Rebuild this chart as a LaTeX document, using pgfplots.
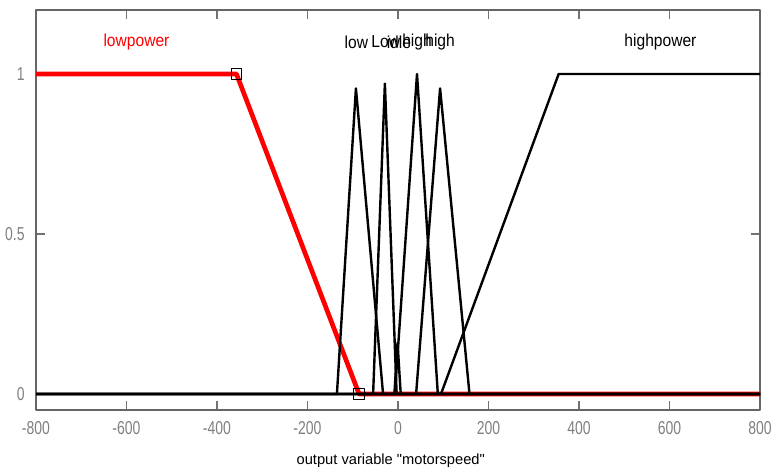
\documentclass[border=0pt]{standalone}
\usepackage{pgfplots}
\pgfplotsset{compat=1.18}
\usepackage{fontspec}
\setmainfont{Liberation Sans}
\newfontfamily\tickfont[FakeStretch=0.75]{Liberation Sans}
\newfontfamily\labfont[FakeStretch=0.9]{Liberation Sans}
% straight double quote, set as a glyph so the TeX ligature mapping leaves it alone
\newcommand\sq{\XeTeXglyph\XeTeXcharglyph"22\relax}

\begin{document}
\begin{tikzpicture}
\begin{axis}[
  scale only axis, width=543pt, height=300pt,
  xmin=-800, xmax=800, ymin=-0.05, ymax=1.2,
  xtick={-800,-600,-400,-200,0,200,400,600,800},
  ytick={0,0.5,1},
  tick align=inside, major tick length=7pt,
  axis line style={draw=black!60, line width=0.8pt},
  tick style={draw=black!55, line width=0.8pt},
  /pgf/number format/assume math mode=true,
  ticklabel style={font=\tickfont\fontsize{14}{14}\selectfont, text=black!50},
  xticklabel style={yshift=-5pt},
  yticklabel style={xshift=-5pt},
  xlabel={output variable \sq motorspeed\sq},
  xlabel style={font=\fontsize{11}{12}\selectfont, at={(axis description cs:0.49,0)}, anchor=center, yshift=-38pt},
  clip=false,
  line join=round,
]
\coordinate (SW) at (rel axis cs:0,0);
\coordinate (NE) at (rel axis cs:1,1);

% lowpower (selected membership function)
\addplot[red, line width=3.5pt] coordinates {(-800,1) (-357,1) (-86,0) (800,0)};

% remaining membership functions
\addplot[black, line width=1.8pt] coordinates {(-800,0) (95,0) (355,1) (800,1)};
\addplot[black, line width=1.8pt] coordinates {(-800,0) (-135,0) (-93,0.955) (-33,0) (800,0)};
\addplot[black, line width=1.8pt] coordinates {(-800,0) (-55,0) (-29,0.97) (-3,0) (800,0)};
\addplot[black, line width=1.8pt] coordinates {(-800,0) (-8,0) (-1,0.16) (6,0) (800,0)};
\addplot[black, line width=1.8pt] coordinates {(-800,0) (-7,0) (42,1.0) (88,0) (800,0)};
\addplot[black, line width=1.8pt] coordinates {(-800,0) (40,0) (93,0.955) (158,0) (800,0)};

% vertex handles of the selected function
\addplot[only marks, mark=square, mark size=4pt, mark options={draw=black, line width=0.9pt, fill=none}]
  coordinates {(-357,1) (-86,0)};

% membership function names
\node[text=red, font=\labfont\fontsize{13}{13}\selectfont] at (axis cs:-578,1.1) {lowpower};
\node[font=\labfont\fontsize{13}{13}\selectfont] at (axis cs:580,1.1) {highpower};
\node[font=\labfont\fontsize{13}{13}\selectfont] at (axis cs:-92,1.1) {low};
\node[font=\labfont\fontsize{13}{13}\selectfont] at (axis cs:-27,1.1) {Low};
\node[font=\labfont\fontsize{13}{13}\selectfont] at (axis cs:2,1.1) {idle};
\node[font=\labfont\fontsize{13}{13}\selectfont] at (axis cs:42,1.1) {high};
\node[font=\labfont\fontsize{13}{13}\selectfont] at (axis cs:93,1.1) {high};
\end{axis}
\pgfresetboundingbox
\path[use as bounding box] ([shift={(-27pt,-48pt)}]SW) rectangle ([shift={(14.25pt,7.5pt)}]NE);
\end{tikzpicture}
\end{document}
